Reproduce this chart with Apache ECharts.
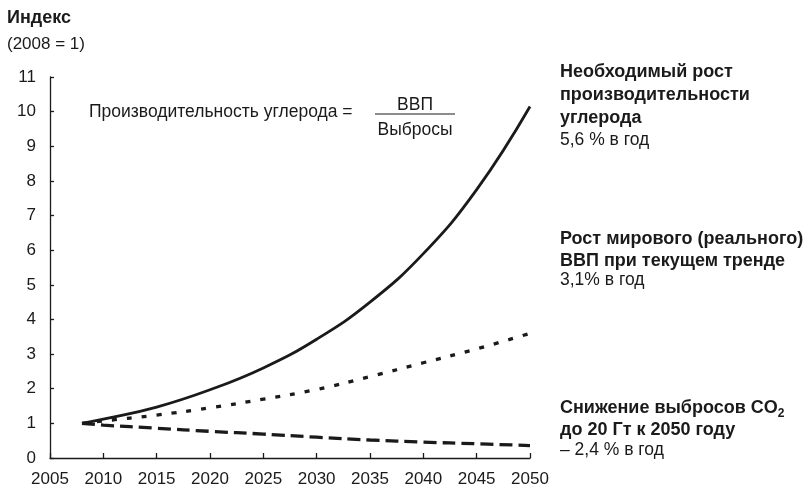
<!DOCTYPE html>
<html>
<head>
<meta charset="utf-8">
<script src="https://cdn.jsdelivr.net/npm/echarts@6/dist/echarts.min.js"></script>
<style>
  html, body { margin: 0; padding: 0; background: #fff; }
  #chart { width: 808px; height: 491px; }
</style>
</head>
<body>
<div id="chart"></div>
<script>
  // years and index values (2008 = 1)
  var years = [2008, 2010, 2015, 2020, 2025, 2030, 2035, 2040, 2045, 2050];
  var carbonProductivity = [1, 1.12, 1.47, 1.97, 2.6, 3.43, 4.5, 5.9, 7.75, 10.15];
  var gdpGrowth = [1, 1.07, 1.24, 1.45, 1.7, 1.98, 2.35, 2.75, 3.15, 3.6];
  var emissions = [1, 0.95, 0.86, 0.77, 0.69, 0.6, 0.52, 0.46, 0.41, 0.36];

  var xTicks = [2005, 2010, 2015, 2020, 2025, 2030, 2035, 2040, 2045, 2050];
  var yTicks = [0, 1, 2, 3, 4, 5, 6, 7, 8, 9, 10, 11];

  function pairs(vals) {
    return years.map(function (y, i) { return [y, vals[i]]; });
  }

  var font = 'Liberation Sans, Arial, sans-serif';
  var ink = '#1a1a1a';

  var chart = echarts.init(document.getElementById('chart'));

  chart.setOption({
    animation: false,
    backgroundColor: '#fff',
    grid: { left: 50, right: 278, top: 77, bottom: 33, containLabel: false },
    xAxis: {
      type: 'value',
      min: xTicks[0],
      max: xTicks[xTicks.length - 1],
      interval: 5,
      axisLine: { lineStyle: { color: ink, width: 1.3 } },
      axisTick: { inside: true, length: 5, lineStyle: { color: ink, width: 1.3 } },
      splitLine: { show: false },
      axisLabel: {
        color: ink, fontFamily: font, fontSize: 17, margin: 13,
        formatter: function (v) { return String(v); }
      }
    },
    yAxis: {
      type: 'value',
      min: yTicks[0],
      max: yTicks[yTicks.length - 1],
      interval: 1,
      axisLine: { show: true, lineStyle: { color: ink, width: 1.3 } },
      axisTick: { show: true, inside: true, length: 4, lineStyle: { color: ink, width: 1.3 } },
      splitLine: { show: false },
      axisLabel: { color: ink, fontFamily: font, fontSize: 17, margin: 14 }
    },
    series: [
      {
        name: 'carbon', type: 'line', smooth: 0.45, symbol: 'none',
        data: pairs(carbonProductivity),
        lineStyle: { color: ink, width: 2.8 }
      },
      {
        name: 'gdp', type: 'line', smooth: 0.45, symbol: 'none',
        data: pairs(gdpGrowth),
        lineStyle: { color: ink, width: 3.3, type: [5, 10] }
      },
      {
        name: 'emissions', type: 'line', smooth: 0.45, symbol: 'none',
        data: pairs(emissions),
        lineStyle: { color: ink, width: 3.3, type: [13, 6] }
      }
    ],
    graphic: [
      { type: 'text', left: 7, top: 9, style: { text: 'Индекс', font: 'bold 18px ' + font, fill: ink } },
      { type: 'text', left: 7, top: 36, style: { text: '(2008 = 1)', font: '17px ' + font, fill: ink } },

      { type: 'text', left: 89, top: 103, style: { text: 'Производительность углерода =', font: '17.5px ' + font, fill: ink } },
      { type: 'text', x: 415, y: 105, style: { text: 'ВВП', font: '17.5px ' + font, fill: ink, align: 'center', verticalAlign: 'middle' } },
      { type: 'line', shape: { x1: 375, y1: 114, x2: 455, y2: 114 }, style: { stroke: ink, lineWidth: 1.2 } },
      { type: 'text', x: 415, y: 130, style: { text: 'Выбросы', font: '17.5px ' + font, fill: ink, align: 'center', verticalAlign: 'middle' } },

      { type: 'text', left: 560, top: 61, style: { text: 'Необходимый рост\nпроизводительности\nуглерода', font: 'bold 18px ' + font, lineHeight: 23, fill: ink } },
      { type: 'text', left: 560, top: 131, style: { text: '5,6 % в год', font: '17.5px ' + font, fill: ink } },

      { type: 'text', left: 560, top: 228, style: { text: 'Рост мирового (реального)\nВВП при текущем тренде', font: 'bold 18px ' + font, lineHeight: 22, fill: ink } },
      { type: 'text', left: 560, top: 271, style: { text: '3,1% в год', font: '17.5px ' + font, fill: ink } },

      {
        type: 'text', left: 560, top: 397,
        style: {
          text: 'Снижение выбросов CO{s|2}\nдо 20 Гт к 2050 году',
          font: 'bold 18px ' + font, lineHeight: 22, fill: ink,
          rich: { s: { font: 'bold 12px ' + font, fill: ink, padding: [11, 0, 0, 0] } }
        }
      },
      { type: 'text', left: 560, top: 441, style: { text: '– 2,4 % в год', font: '17.5px ' + font, fill: ink } }
    ]
  });
</script>
</body>
</html>
